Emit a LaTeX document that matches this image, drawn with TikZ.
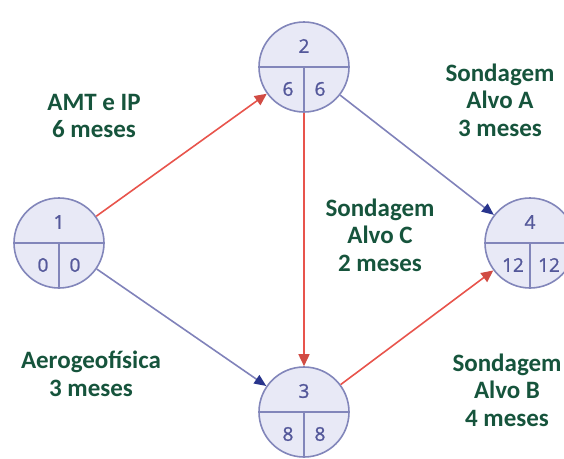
\documentclass[tikz,border=0pt]{standalone}
\usepackage{fontspec}
\setmainfont{Carlito}
\newfontfamily\numfont[FakeBold=1.2]{Open Sans}
\usetikzlibrary{arrows.meta}

\definecolor{activgreen}{RGB}{22,84,60}
\definecolor{eventblue}{RGB}{84,88,154}
\definecolor{eventfill}{RGB}{232,233,246}
\definecolor{eventline}{RGB}{130,134,186}
\definecolor{critred}{RGB}{232,84,76}
\definecolor{slackblue}{RGB}{128,130,186}
\definecolor{tipblue}{RGB}{40,52,140}

\begin{document}
\begin{tikzpicture}[x=1pt,y=-1pt]

%
% Styles
%
\tikzstyle{event}  = [circle,draw=eventline,fill=eventfill,line width=1.6pt,minimum size=90pt,inner sep=0pt]
\tikzstyle{split}  = [draw=eventline,line width=1.3pt]
\tikzstyle{num}    = [text=eventblue,font=\numfont\fontsize{19}{22}\selectfont]
\tikzstyle{activ}  = [text=activgreen,align=center,font=\bfseries\fontsize{25}{27.5}\selectfont]
\tikzstyle{crit}   = [draw=critred,line width=1.6pt,-{Triangle[length=12pt,width=11pt,color=critred!90!black]}]
\tikzstyle{slack}  = [draw=slackblue,line width=1.6pt,-{Triangle[length=12pt,width=10pt,color=tipblue]}]

\path[use as bounding box] (0,0) rectangle (564,458);
\clip (0,0) rectangle (564,458);

% events
\node[event] (e1) at ( 59,243) {};
\node[event] (e2) at (304, 67) {};
\node[event] (e3) at (304,412) {};
\node[event] (e4) at (530,243) {};

\foreach \e in {e1,e2,e3,e4} {
  \draw[split] (\e.west) -- (\e.east);
  \draw[split] (\e.center) -- (\e.south);
}

\node[num] at ( 59,222) {1};
\node[num] at ( 43,265) {0};
\node[num] at ( 75,265) {0};
\node[num] at (304, 46) {2};
\node[num] at (288, 89) {6};
\node[num] at (320, 89) {6};
\node[num] at (304,391) {3};
\node[num] at (288,434) {8};
\node[num] at (320,434) {8};
\node[num] at (530,222) {4};
\node[num] at (513,265) {12};
\node[num] at (549,265) {12};

% activities
\draw[crit]  (e1) -- (e2);
\draw[slack] (e1) -- (e3);
\draw[crit]  (e2) -- (e3);
\draw[slack] (e2) -- (e4);
\draw[crit]  (e3) -- (e4);

\node[activ] (amt)   at ( 94,116) {AMT e IP\\6 meses};
\node[activ] (alvoa) at (500,100) {Sondagem\\Alvo A\\3 meses};
\node[activ] (alvoc) at (380,235) {Sondagem\\Alvo C\\2 meses};
\node[activ] (aero)  at ( 91,374) {Aerogeofísica\\3 meses};
\node[activ] (alvob) at (507,390) {Sondagem\\Alvo B\\4 meses};

\end{tikzpicture}
\end{document}
